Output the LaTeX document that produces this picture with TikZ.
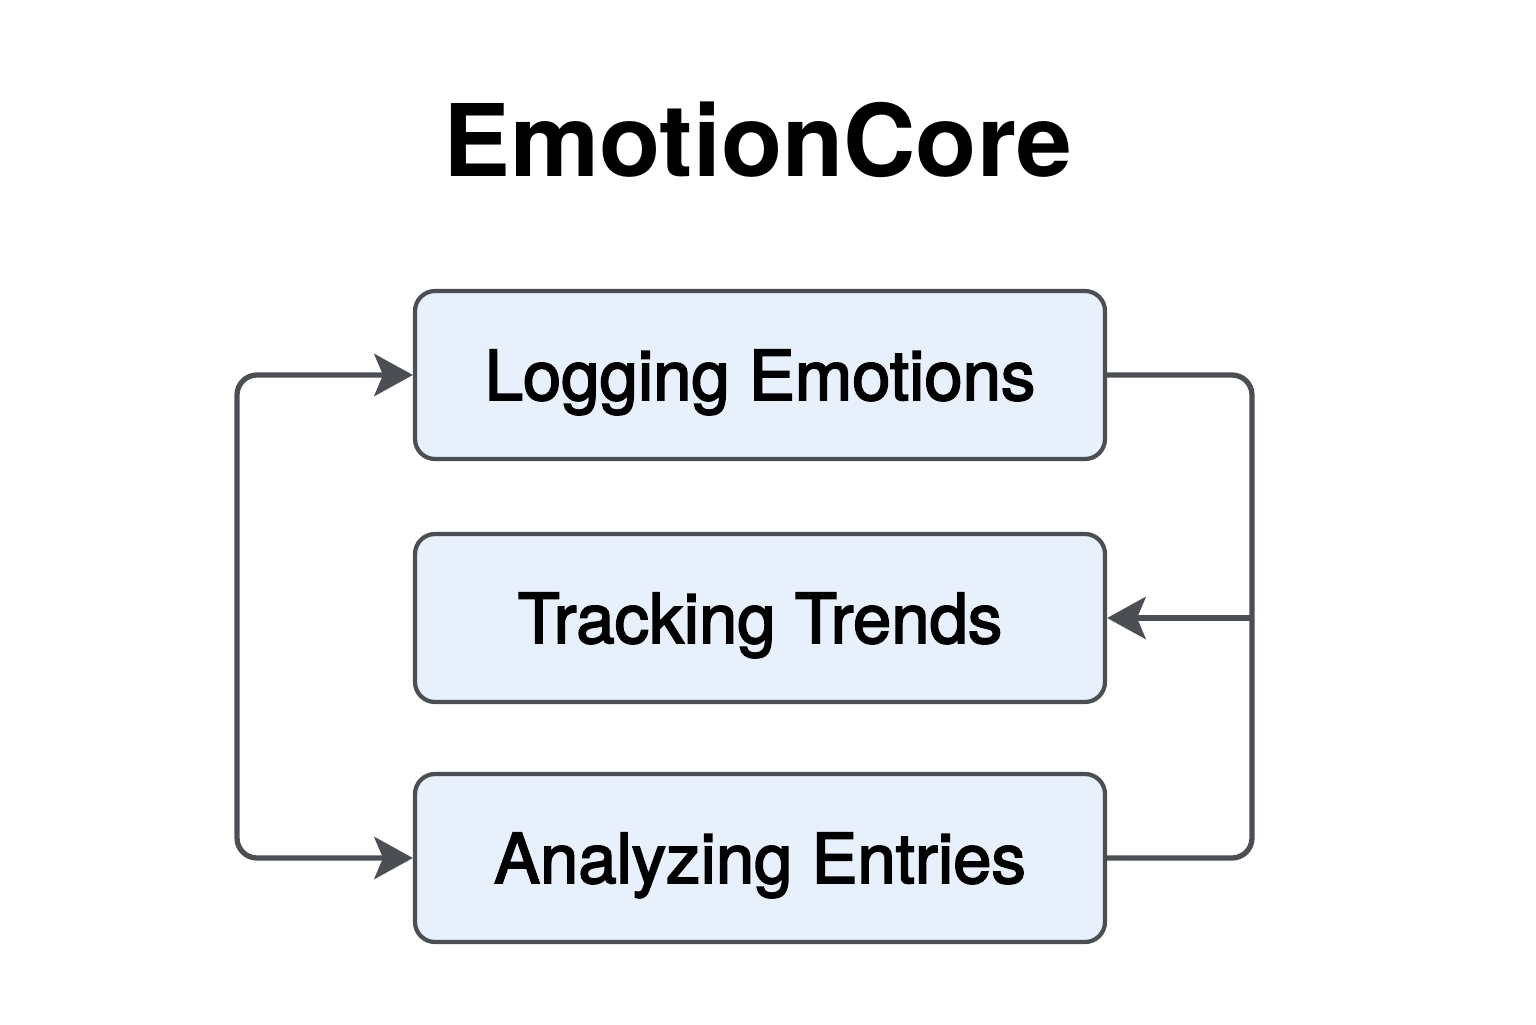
\documentclass[tikz,border=0pt]{standalone}
\usepackage{fontspec}
\setmainfont{TeX Gyre Heros}
\usetikzlibrary{arrows.meta}

\definecolor{boxfill}{HTML}{E8F0FC}
\definecolor{linegray}{HTML}{4B4E53}

\tikzset{
  stagebox/.style={draw=linegray, line width=1.2pt, fill=boxfill, rounded corners=0.2cm,
    minimum width=6.9cm, minimum height=1.68cm, text height=0.5cm, text depth=0pt,
    font=\fontsize{19.6}{24}\selectfont\addfontfeature{FakeBold=2.5}},
  flow/.style={draw=linegray, line width=1.5pt, rounded corners=0.2cm},
  tipend/.style={-{Stealth[length=11pt, width=12pt, inset=2.5pt]}},
  tipboth/.style={{Stealth[length=11pt, width=12pt, inset=2.5pt]}-{Stealth[length=11pt, width=12pt, inset=2.5pt]}}
}

\begin{document}
\begin{tikzpicture}
    % Canvas
    \useasboundingbox (0,0) rectangle (15.36,10.24);

    % Title
    \node[font=\fontsize{28.5}{34}\selectfont\bfseries] (title) at (7.58,8.84) {EmotionCore};

    % Stages
    \node[stagebox] (log) at (7.60,6.49) {Logging Emotions};
    \node[stagebox] (track) at (7.60,4.06) {Tracking Trends};
    \node[stagebox] (analyze) at (7.60,1.66) {Analyzing Entries};

    % Junction points
    \coordinate (lefttop) at (2.37,6.49);
    \coordinate (leftbot) at (2.37,1.66);
    \coordinate (righttop) at (12.52,6.49);
    \coordinate (rightbot) at (12.52,1.66);
    \coordinate (rightmid) at (12.52,4.06);

    % Left loop
    \draw[flow, tipboth] (log.west) -- (lefttop) -- (leftbot) -- (analyze.west);

    % Right loop
    \draw[flow] (log.east) -- (righttop) -- (rightbot) -- (analyze.east);
    \draw[flow, tipend, rounded corners=0pt] (rightmid) -- (track.east);
\end{tikzpicture}
\end{document}
